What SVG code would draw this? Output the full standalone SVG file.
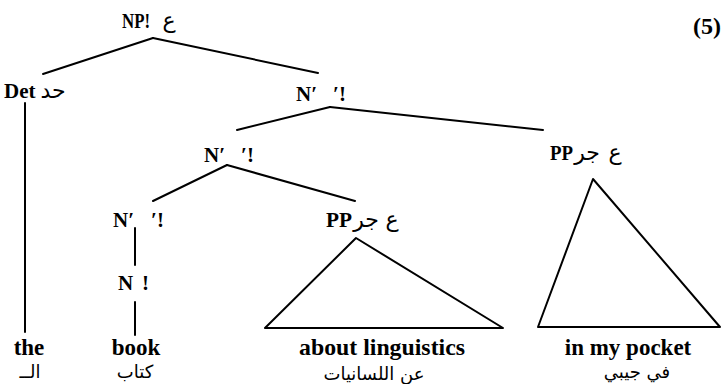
<svg xmlns="http://www.w3.org/2000/svg" width="722" height="384" viewBox="0 0 722 384">
<style>
.l{font-family:"Liberation Serif","Times New Roman",serif;font-weight:bold;font-size:21px;fill:#000}
.w{font-family:"Liberation Serif","Times New Roman",serif;font-weight:bold;font-size:23px;fill:#000}
.n{font-family:"Liberation Serif","Times New Roman",serif;font-weight:bold;font-size:24px;fill:#000}
.a{font-family:"DejaVu Sans",sans-serif;font-size:22px;fill:#000}
.b{font-family:"DejaVu Sans",sans-serif;font-size:18px;fill:#000}
.e{stroke:#000;stroke-width:2;fill:none;stroke-linecap:round;stroke-linejoin:round}
</style>
<rect width="722" height="384" fill="#fff"/>
<text class="n" x="693" y="34">(5)</text>
<g id="connectors" class="e">
<line x1="153" y1="38" x2="43" y2="74"/>
<line x1="153" y1="38" x2="318" y2="73"/>
<line x1="25" y1="103" x2="25" y2="332"/>
<line x1="330" y1="107" x2="237" y2="130"/>
<line x1="330" y1="107" x2="543" y2="130"/>
<line x1="227" y1="165" x2="153" y2="201"/>
<line x1="227" y1="165" x2="355" y2="201"/>
<line x1="135" y1="228" x2="135" y2="265"/>
<line x1="135" y1="302" x2="135" y2="335"/>
<polygon points="356,238 265,328 503,328"/>
<polygon points="593,179 538,327 720,327"/>
</g>
<g id="np"><text class="l" x="122" y="28" textLength="28" lengthAdjust="spacingAndGlyphs">NP!</text><text class="a" x="169" y="28" text-anchor="middle">ع</text></g>
<g id="det"><text class="l" x="4" y="98">Det</text><text class="a" x="53" y="98" text-anchor="middle">حد</text></g>
<g id="nbar1"><text class="l" x="296" y="101">N′</text><text class="l" x="333" y="101">′!</text></g>
<g id="nbar2"><text class="l" x="204" y="162">N′</text><text class="l" x="241" y="162">′!</text></g>
<g id="nbar3"><text class="l" x="113" y="227">N′</text><text class="l" x="151" y="227">′!</text></g>
<g id="n"><text class="l" x="118" y="290">N</text><text class="l" x="142" y="290">!</text></g>
<g id="pp1"><text class="l" x="326" y="227" textLength="26" lengthAdjust="spacingAndGlyphs">PP</text><text class="a" x="366" y="227" text-anchor="middle">جر</text><text class="a" x="392" y="227" text-anchor="middle">ع</text></g>
<g id="pp2"><text class="l" x="550" y="160" textLength="23" lengthAdjust="spacingAndGlyphs">PP</text><text class="a" x="587" y="160" text-anchor="middle">جر</text><text class="a" x="615" y="160" text-anchor="middle">ع</text></g>
<g id="the"><text class="w" x="29" y="355" text-anchor="middle">the</text><text class="b" x="30" y="378" text-anchor="middle">الــ</text></g>
<g id="book"><text class="w" x="136" y="355" text-anchor="middle">book</text><text class="b" x="135" y="378" text-anchor="middle">كتاب</text></g>
<g id="about"><text class="w" x="299" y="355" textLength="166" lengthAdjust="spacingAndGlyphs">about linguistics</text><text class="b" x="374" y="380" text-anchor="middle">عن اللسانيات</text></g>
<g id="pocket"><text class="w" x="628" y="355" text-anchor="middle">in my pocket</text><text class="b" x="637" y="378" text-anchor="middle">في جيبي</text></g>
</svg>
